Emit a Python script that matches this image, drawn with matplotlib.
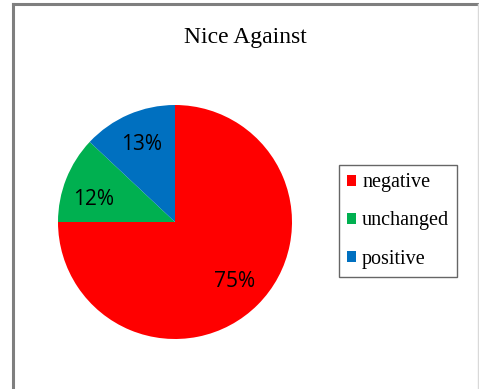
import matplotlib.pyplot as plt
from matplotlib.lines import Line2D

labels = ['negative', 'unchanged', 'positive']
shares = [75, 12, 13]
colors = ['#FF0000', '#00B050', '#0070C0']

W, H = 479, 389
fig = plt.figure(figsize=(W / 100, H / 100), dpi=100)

# chart border (left/top dark, right light)
fig.add_artist(Line2D([12.5 / W, 12.5 / W], [0, 1 - 4 / H], color='#7f7f7f', lw=2.2))
fig.add_artist(Line2D([12.5 / W, 1], [1 - 4 / H, 1 - 4 / H], color='#7f7f7f', lw=2.2))
fig.add_artist(Line2D([477.5 / W, 477.5 / W], [0, 1 - 4 / H], color='#d9d9d9', lw=1))

fig.text(245 / W, 1 - 37 / H, 'Nice Against', ha='center', va='center',
         fontsize=17, family='Liberation Serif')

# pie
cx, cy, r = 175, H - 222, 117
ax = fig.add_axes([(cx - r) / W, (cy - r) / H, 2 * r / W, 2 * r / H])
wedges, texts, autotexts = ax.pie(shares, colors=colors, startangle=90, counterclock=False,
                                  autopct='%d%%', pctdistance=0.72,
                                  textprops=dict(fontsize=15, family='Open Sans', color='black'))
# small nudge for the green label, as in the original
x, y = autotexts[1].get_position()
autotexts[1].set_position((x - 0.03, y - 0.07))
ax.set_xlim(-1, 1)
ax.set_ylim(-1, 1)

leg = fig.legend(wedges, labels, loc='center', bbox_to_anchor=(398 / W, 1 - 221 / H),
                 prop=dict(family='Liberation Serif', size=14.5), frameon=True, fancybox=False,
                 handlelength=0.45, handleheight=0.45, handletextpad=0.3, labelspacing=0.95,
                 borderpad=0.4, borderaxespad=0)
leg.get_frame().set_edgecolor('#404040')
leg.get_frame().set_linewidth(1)

plt.savefig('out.png', dpi=100)
